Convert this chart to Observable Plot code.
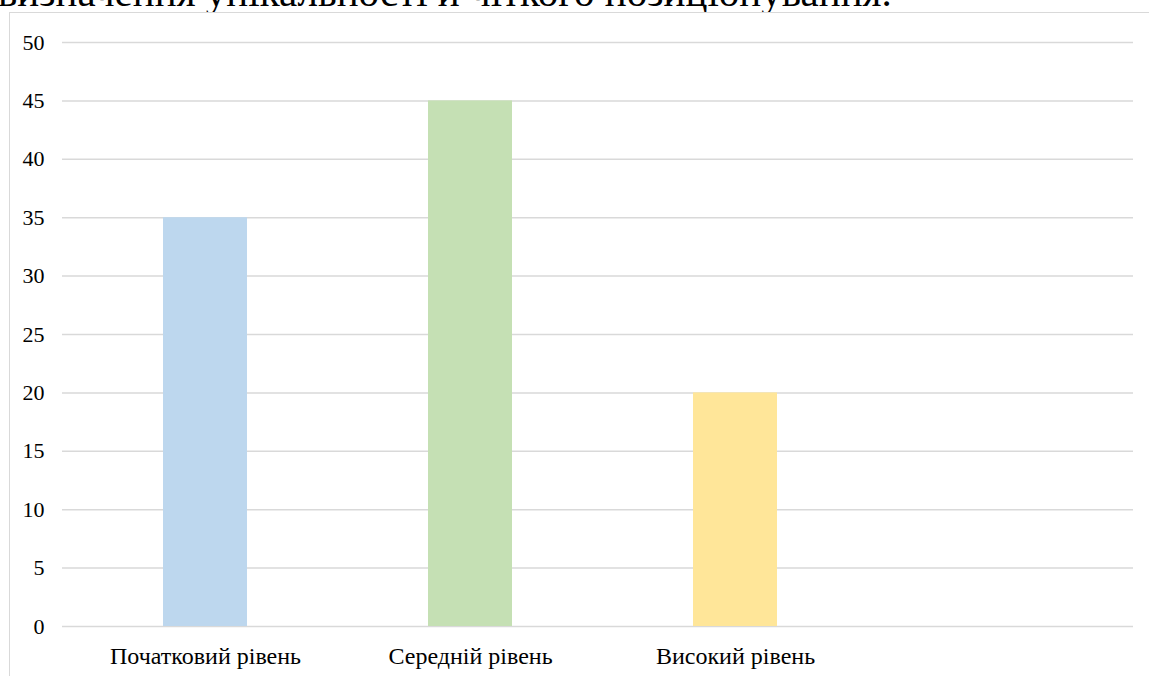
<!DOCTYPE html>
<html>
<head>
<meta charset="utf-8">
<script src="https://cdn.jsdelivr.net/npm/d3@7"></script>
<script src="https://cdn.jsdelivr.net/npm/@observablehq/plot@0.6"></script>
<style>
  html, body { margin: 0; padding: 0; background: #fff; }
  #page { position: relative; width: 1149px; height: 676px; overflow: hidden; background: #fff; }
  #head { position: absolute; left: 0; top: 0; width: 1149px; height: 12px; overflow: hidden; }
  #head span { position: absolute; left: -2px; top: -28px; white-space: nowrap;
    font-family: "Liberation Serif", "Times New Roman", serif; font-size: 41px; line-height: 1; color: #000; }
  #frame { position: absolute; left: 9px; top: 12px; width: 1140px; height: 664px;
    border-left: 1.5px solid #d9d9d9; border-top: 1.5px solid #d9d9d9; box-sizing: border-box; }
  #chart { position: absolute; left: 10px; top: 13px; }
  #chart svg text { font-family: "Liberation Serif", "Times New Roman", serif !important; fill: #000; }
</style>
</head>
<body>
<div id="page">
  <div id="head"><span>визначення унікальності й чіткого позиціонування.</span></div>
  <div id="frame"></div>
  <div id="chart"></div>
</div>
<script>
const categories = ["Початковий рівень", "Середній рівень", "Високий рівень", ""];
const values = [35, 45, 20, null];
const colors = ["#BDD7EE", "#C5E0B4", "#FFE699", "#ffffff"];
const yTicks = [0, 5, 10, 15, 20, 25, 30, 35, 40, 45, 50];

const data = categories.map((c, i) => ({category: c, value: values[i], color: colors[i]}))
  .filter(d => d.value != null);

const chart = Plot.plot({
  width: 1139,
  height: 663,
  marginLeft: 52,
  marginRight: 16,
  marginTop: 29,
  marginBottom: 50,
  style: {fontFamily: "'Liberation Serif', 'Times New Roman', serif", fontSize: "20px", color: "#000", background: "transparent"},
  x: {domain: categories, range: [61, 1123], paddingInner: 0.684, paddingOuter: 0.342, label: null},
  y: {domain: [0, 50], ticks: yTicks, label: null},
  marks: [
    Plot.ruleY(yTicks, {stroke: "#d9d9d9", strokeWidth: 1.5}),
    Plot.barY(data, {x: "category", y: "value", fill: "color"}),
    Plot.axisX({tickSize: 0, tickPadding: 20, fontSize: 24, label: null}),
    Plot.axisY(yTicks, {tickSize: 0, tickPadding: 18, fontSize: 22, label: null})
  ]
});
document.getElementById("chart").appendChild(chart);
</script>
</body>
</html>
